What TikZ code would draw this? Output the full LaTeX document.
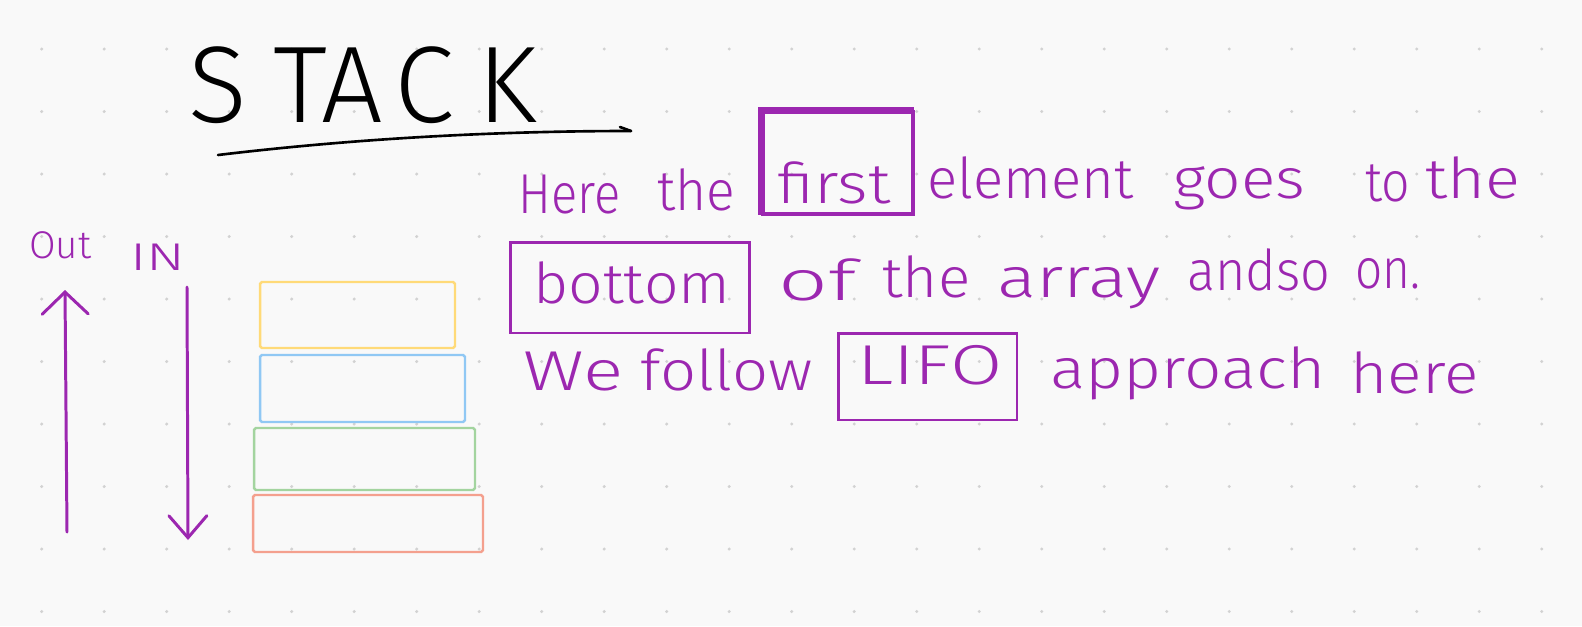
\documentclass[tikz,border=0pt]{standalone}
\usepackage{fontspec}
\usepackage{graphicx}
\usetikzlibrary{arrows.meta,positioning}
\newfontfamily\handfont{Fira Sans Light}
\definecolor{boardpaper}{HTML}{F9F9F9}
\definecolor{boarddot}{HTML}{D2D2D2}
\definecolor{handpurple}{HTML}{9C27B0}
\definecolor{slotyellow}{HTML}{FFDA78}
\definecolor{slotblue}{HTML}{90C8F4}
\definecolor{slotgreen}{HTML}{A3D49F}
\definecolor{slotred}{HTML}{F4A08E}
\newlength\pxu
\setlength\pxu{0.02cm}
\newcommand{\fitword}[2]{\resizebox{#1\pxu}{\height}{#2}}

\begin{document}
\begin{tikzpicture}[
  x=0.02cm,y=-0.02cm,
  ink/.style={draw=black,line width=1.5pt,line cap=round},
  hand/.style={text=handpurple,inner sep=0pt,anchor=base west,
    font=\handfont\fontsize{32}{36}\selectfont},
  label hand/.style={hand,font=\handfont\fontsize{22}{25}\selectfont},
  wordbox/.style={draw=handpurple,line width=1.7pt,inner sep=0pt},
  slot/.style={draw,line width=1.4pt,rounded corners=1pt,inner sep=0pt},
  flow/.style={draw=handpurple,line width=1.7pt,line cap=round},
]
  % Paper and its dotted grid.
  \fill[boardpaper] (0,0) rectangle (1582,626);
  \useasboundingbox (0,0) rectangle (1582,626);
  \foreach \gx in {0,...,24}
    \foreach \gy in {0,...,9}
      \fill[boarddot] (41.7+62.5*\gx,49+62.5*\gy) circle (1.7);

  % Title with its underline.
  \foreach \lx/\lt [count=\i] in {218/S,300/T,352/A,424/C,507/K}
    \node[anchor=base,inner sep=0pt,font=\handfont\fontsize{62}{70}\selectfont]
      (title\i) at (\lx,122) {\lt};
  \draw[ink] (218,155) .. controls (360,138) and (500,131) .. (631,131);
  \draw[ink] (620,127) -- (631,131);

  % The stack slots, top to bottom.
  \node[slot,draw=slotyellow,minimum width=3.9cm,minimum height=1.32cm]
    (slot1) at (357.5,315) {};
  \node[slot,draw=slotblue,minimum width=4.1cm,minimum height=1.34cm]
    (slot2) at (362.5,388.5) {};
  \node[slot,draw=slotgreen,minimum width=4.42cm,minimum height=1.24cm]
    (slot3) at (364.5,459) {};
  \node[slot,draw=slotred,minimum width=4.6cm,minimum height=1.14cm]
    (slot4) at (368,523.5) {};

  % Push and pop directions.
  \node[label hand] (outlbl) at (29,258) {\fitword{62}{Out}};
  \node[label hand] (inlbl) at (130,270) {\fitword{55}{IN}};
  \coordinate (out tail) at (67,532);
  \coordinate (out head) at (65,290);
  \coordinate (in tail) at (187,287);
  \coordinate (in head) at (188,540);
  \draw[flow,-{Straight Barb[length=0.44cm,width=0.92cm,line cap=round]}]
    (out tail) -- (out head);
  \draw[flow,-{Straight Barb[length=0.44cm,width=0.76cm,line cap=round]}]
    (in tail) -- (in head);

  % Highlight boxes round the key words; the first one is gone over twice.
  \node[wordbox,line width=2.8pt,minimum width=3.0cm,minimum height=2.04cm]
    (firstbox) at (838,163) {};
  \node[wordbox,line width=1.2pt,minimum width=3.06cm,minimum height=2.1cm]
    (firstecho) at (836,161) {};
  \node[wordbox,minimum width=4.8cm,minimum height=1.82cm]
    (bottombox) at (630,287.5) {};
  \node[wordbox,minimum width=3.58cm,minimum height=1.74cm]
    (lifobox) at (927.5,376.5) {};

  % Handwritten note, word by word.
  \foreach \wx/\wy/\ww/\wt [count=\i] in {518/213/102/Here,657/210/78/the,
      777/203/113/first,927/198/206/element,1173/198/132/goes,
      1365/201/45/to,1425/198/95/the}
    \node[hand] (lineA\i) at (\wx,\wy) {\fitword{\ww}{\wt}};
  \foreach \wx/\wy/\ww/\wt [count=\i] in {533/303/197/bottom,778/300/78/of,
      882/297/88/the,997/297/163/array,1187/290/143/andso,1355/288/65/on.}
    \node[hand] (lineB\i) at (\wx,\wy) {\fitword{\ww}{\wt}};
  \foreach \wx/\wy/\ww/\wt [count=\i] in {523/390/100/We,640/390/172/follow,
      857/384/145/LIFO,1050/388/275/approach,1350/393/128/here}
    \node[hand] (lineC\i) at (\wx,\wy) {\fitword{\ww}{\wt}};
\end{tikzpicture}
\end{document}
